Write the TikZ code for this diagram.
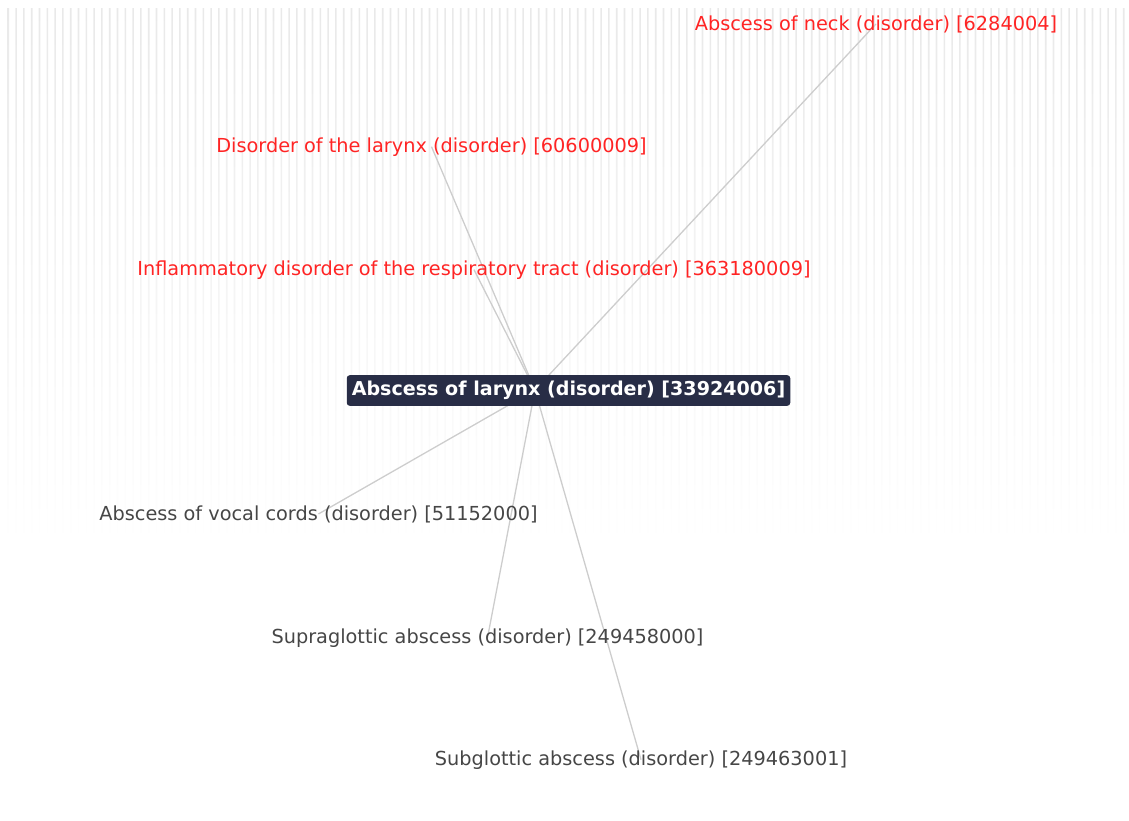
\documentclass[tikz,border=0pt]{standalone}
\usepackage{fontspec}
\setmainfont{DejaVu Sans}
\usetikzlibrary{backgrounds}

\definecolor{parentred}{RGB}{255,36,36}
\definecolor{childgray}{RGB}{70,70,70}
\definecolor{focusnavy}{RGB}{40,45,70}
\definecolor{edgegray}{RGB}{205,205,205}
\definecolor{stripegray}{RGB}{233,233,233}

\tikzset{
  concept/.style={font=\fontsize{19.3}{22}\selectfont, inner sep=0pt, anchor=base},
  parent/.style={concept, text=parentred},
  child/.style={concept, text=childgray},
  focus/.style={font=\fontsize{19.1}{22}\selectfont\bfseries, text=white, fill=focusnavy,
    rounded corners=3pt, inner xsep=5pt, inner ysep=6pt},
  link/.style={draw=edgegray, line width=1.3pt},
}

\begin{document}
\begin{tikzpicture}[x=1pt,y=-1pt]
    \useasboundingbox (0,0) rectangle (1129,820);

    % parents
    \node[parent] (neck) at (876,30) {Abscess of neck (disorder) [6284004]};
    \node[parent] (larynxdis) at (431.5,152) {Disorder of the larynx (disorder) [60600009]};
    \node[parent] (inflam) at (474,275) {Inflammatory disorder of the respiratory tract (disorder) [363180009]};

    % focus concept
    \node[focus] (larynx) at (568.5,390.5) {Abscess of larynx (disorder) [33924006]};
    \coordinate (hub) at (535,390);

    % children
    \node[child] (vocal) at (318.5,520) {Abscess of vocal cords (disorder) [51152000]};
    \node[child] (supra) at (487.5,643) {Supraglottic abscess (disorder) [249458000]};
    \node[child] (sub) at (641,765) {Subglottic abscess (disorder) [249463001]};

    \begin{pgfonlayer}{background}
        \shade[top color=stripegray, middle color=stripegray!85, bottom color=white]
            foreach \x in {7.5,15.3,...,1129} {(\x,8) rectangle ++(1.6,537)};
        \foreach \n in {neck,larynxdis,inflam,vocal,supra,sub}
            \draw[link] (\n.center) -- (hub);
    \end{pgfonlayer}
\end{tikzpicture}
\end{document}
